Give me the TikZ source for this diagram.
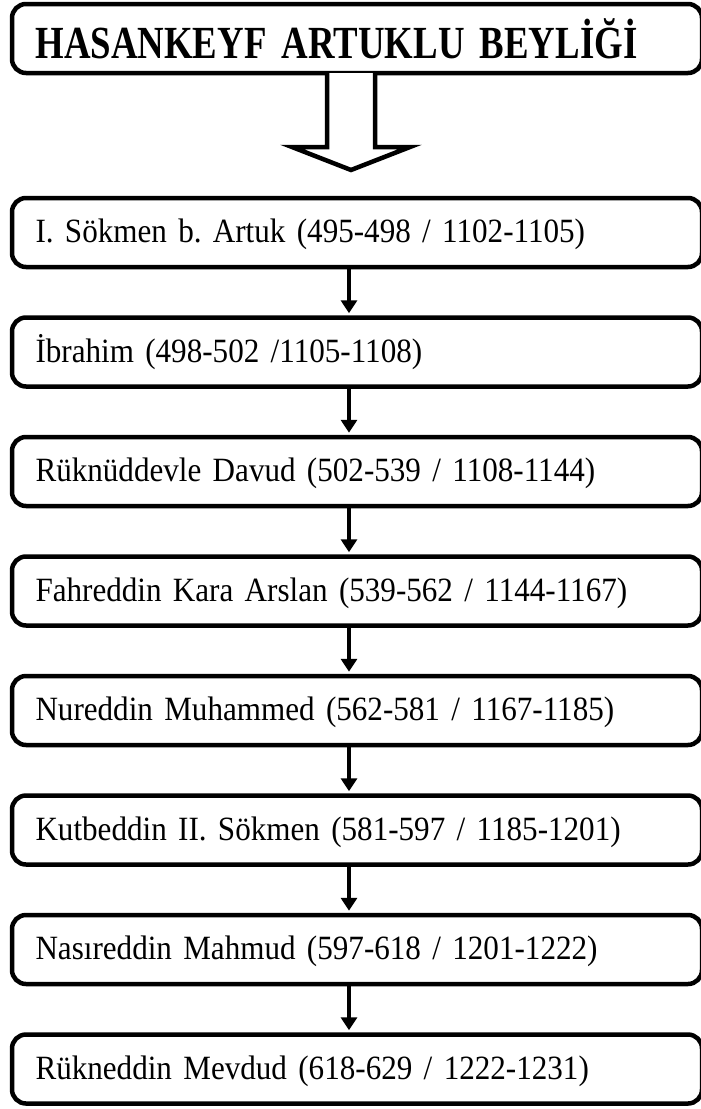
\documentclass[tikz,border=0pt]{standalone}
\usepackage{fontspec}
\setmainfont{Liberation Serif}
\newfontfamily\bodyfont[FakeStretch=0.915]{Liberation Serif}
\newfontfamily\headfont[FakeStretch=0.80]{Liberation Serif}
\usetikzlibrary{arrows.meta}
\frenchspacing
\newcommand\myBodyFmt{\bodyfont\fontsize{34}{40}\selectfont\frenchspacing\spaceskip=6.5pt plus 1pt\relax}
\newcommand\myHeadFmt{\headfont\bfseries\fontsize{46}{52}\selectfont\spaceskip=8.5pt plus 1pt\relax}
\tikzset{
  box/.style={draw, line width=4.5pt, rounded corners=14pt, minimum width=690pt,
    minimum height=69pt, inner xsep=23.5pt, inner ysep=0pt, text width=643pt,
    align=left, font=\myBodyFmt,
    text height=22pt, text depth=2pt},
  titlebox/.style={box, font=\myHeadFmt,
    text height=39pt, text depth=0pt},
  conn/.style={line width=4.5pt, -{Triangle[width=16pt,length=13pt]}, shorten >=2pt},
  hollow/.style={line width=4.5pt, line join=miter, fill=white}
}
\begin{document}
\begin{tikzpicture}[x=1pt,y=-1pt]
\useasboundingbox (0,0) rectangle (701,1109);
\node[titlebox] (title) at (357,38.5) {HASANKEYF ARTUKLU BEYLİĞİ};
\node[box] (b1) at (357,232.5) {I. Sökmen b. Artuk (495-498 / 1102-1105)};
\node[box] (b2) at (357,352) {İbrahim (498-502 /1105-1108)};
\node[box] (b3) at (357,471.5) {Rüknüddevle Davud (502-539 / 1108-1144)};
\node[box] (b4) at (357,591) {Fahreddin Kara Arslan (539-562 / 1144-1167)};
\node[box] (b5) at (357,710.5) {Nureddin Muhammed (562-581 / 1167-1185)};
\node[box] (b6) at (357,830) {Kutbeddin II. Sökmen (581-597 / 1185-1201)};
\node[box] (b7) at (357,949.5) {Nasıreddin Mahmud (597-618 / 1201-1222)};
\node[box] (b8) at (357,1069) {Rükneddin Mevdud (618-629 / 1222-1231)};
\coordinate (ax) at (349,0);
\draw[hollow] (327,73) -- (327,147) -- (292,147) -- (351,170) -- (410,147) -- (375,147) -- (375,73);
\foreach \a/\b in {b1/b2,b2/b3,b3/b4,b4/b5,b5/b6,b6/b7,b7/b8}
  \draw[conn] (\a.south -| ax) -- (\b.north -| ax);
\end{tikzpicture}
\end{document}
